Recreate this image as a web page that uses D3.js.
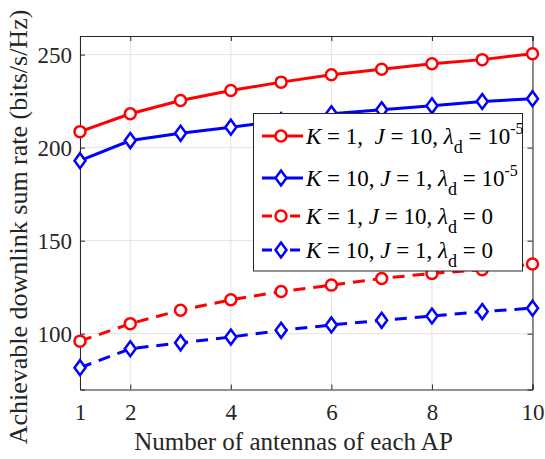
<!DOCTYPE html>
<html><head><meta charset="utf-8">
<script src="https://cdn.jsdelivr.net/npm/d3@7"></script>
<style>body{margin:0;background:#fff;} text{font-family:"Liberation Serif","Times New Roman",serif;}</style>
</head><body>
<svg id="c" width="545" height="459"></svg>
<script>
const antennas = [1,2,3,4,5,6,7,8,9,10];
const xTicks = [1,2,4,6,8,10];
const yTicks = [100,150,200,250];
const redSolid = [208.6,218.2,225.3,230.7,235.2,239.2,242.1,245.1,247.3,250.5];
const blueSolid = [193.0,203.8,207.7,211.0,214.5,218.2,220.3,222.5,224.8,226.3];
const redDashed = [96.0,105.4,112.6,118.2,122.7,126.1,129.7,132.4,134.4,137.4];
const blueDashed = [81.7,91.9,95.1,98.2,101.8,104.7,107.2,109.5,111.9,113.7];

const series = [
  {vals:redSolid, color:"#ff0000", marker:"circle", dash:null, lab:{K:"1,",J:"10,",lam:"10",sup:"-5", gap:true}},
  {vals:blueSolid, color:"#0000ff", marker:"diamond", dash:null, lab:{K:"10,",J:"1,",lam:"10",sup:"-5"}},
  {vals:redDashed, color:"#ff0000", marker:"circle", dash:"12,8", lab:{K:"1,",J:"10,",lam:"0"}},
  {vals:blueDashed, color:"#0000ff", marker:"diamond", dash:"12,8", lab:{K:"10,",J:"1,",lam:"0"}}
];

const svg = d3.select("#c");
const L=80,R=532.5,T=36,B=389.5;
const x = d3.scaleLinear().domain([1,10]).range([L,R]);
const y = d3.scaleLinear().domain([70,260]).range([B,T]);

// grid
svg.append("g").selectAll("line").data(xTicks).join("line")
  .attr("x1",d=>x(d)).attr("x2",d=>x(d)).attr("y1",T).attr("y2",B)
  .attr("stroke","#e3e3e3").attr("stroke-width",1);
svg.append("g").selectAll("line").data(yTicks).join("line")
  .attr("y1",d=>y(d)).attr("y2",d=>y(d)).attr("x1",L).attr("x2",R)
  .attr("stroke","#e3e3e3").attr("stroke-width",1);

// axes
const xa = svg.append("g").attr("transform",`translate(0,${B})`)
  .call(d3.axisBottom(x).tickValues(xTicks).tickSize(-5).tickPadding(14).tickFormat(d3.format("d")));
const xa2 = svg.append("g").attr("transform",`translate(0,${T})`)
  .call(d3.axisTop(x).tickValues(xTicks).tickSize(-5).tickFormat(""));
const ya = svg.append("g").attr("transform",`translate(${L},0)`)
  .call(d3.axisLeft(y).tickValues(yTicks).tickSize(-5).tickPadding(8));
const ya2 = svg.append("g").attr("transform",`translate(${R},0)`)
  .call(d3.axisRight(y).tickValues(yTicks).tickSize(-5).tickFormat(""));
[xa,xa2,ya,ya2].forEach(g=>{
  g.select(".domain").attr("stroke","#262626").attr("stroke-width",1);
  g.selectAll(".tick line").attr("stroke","#262626");
  g.selectAll("text").attr("font-size",23).attr("fill","#262626")
   .style("font-family","'Liberation Serif',serif");
});
xa.selectAll("text").attr("dy","0.71em");
ya.selectAll("text").attr("dy","0.35em");

// labels
svg.append("text").attr("x",293.5).attr("y",450).attr("text-anchor","middle")
  .attr("font-size",25).attr("fill","#262626").text("Number of antennas of each AP");
svg.append("text").attr("transform",`translate(27,227) rotate(-90)`).attr("text-anchor","middle")
  .attr("font-size",26).attr("fill","#262626").text("Achievable downlink sum rate (bits/s/Hz)");

// lines & markers
const line = d3.line().x((d,i)=>x(antennas[i])).y(d=>y(d));
function drawMarker(g, cx, cy, s){
  if(s.marker==="circle"){
    g.append("circle").attr("cx",cx).attr("cy",cy).attr("r",5.5)
      .attr("fill","#fff").attr("stroke",s.color).attr("stroke-width",2.5);
  } else {
    g.append("path").attr("d",`M${cx},${cy-7.5}L${cx+5.5},${cy}L${cx},${cy+7.5}L${cx-5.5},${cy}Z`)
      .attr("fill","#fff").attr("stroke",s.color).attr("stroke-width",2.5);
  }
}
series.forEach(s=>{
  const g = svg.append("g");
  g.append("path").attr("d",line(s.vals)).attr("fill","none").attr("stroke",s.color)
    .attr("stroke-width",3).attr("stroke-dasharray",s.dash);
  s.vals.forEach((v,i)=>drawMarker(g,x(antennas[i]),y(v),s));
});

// legend
const lg = svg.append("g");
lg.append("rect").attr("x",253.5).attr("y",113.5).attr("width",269).attr("height",157.5)
  .attr("fill","#fff").attr("stroke","#262626").attr("stroke-width",1);
const rowsY = [136,178,216,250];
series.forEach((s,i)=>{
  const yy = rowsY[i];
  if(s.dash){
    lg.append("line").attr("x1",262).attr("x2",272).attr("y1",yy).attr("y2",yy).attr("stroke",s.color).attr("stroke-width",3);
    lg.append("line").attr("x1",290).attr("x2",300).attr("y1",yy).attr("y2",yy).attr("stroke",s.color).attr("stroke-width",3);
  } else {
    lg.append("line").attr("x1",262).attr("x2",303).attr("y1",yy).attr("y2",yy).attr("stroke",s.color).attr("stroke-width",3);
  }
  drawMarker(lg,281,yy,s);
  const t = lg.append("text").attr("x",306).attr("y",yy+8).attr("font-size",23)
    .attr("fill","#000").style("white-space","pre");
  t.append("tspan").attr("font-style","italic").text("K");
  t.append("tspan").text(" = " + s.lab.K + (s.lab.gap?"  ":" "));
  t.append("tspan").attr("font-style","italic").text("J");
  t.append("tspan").text(" = " + s.lab.J + " ");
  t.append("tspan").attr("font-style","italic").text("λ");
  t.append("tspan").attr("font-size",18).attr("dy",9).text("d");
  t.append("tspan").attr("dy",-9).text(" = " + s.lab.lam);
  if(s.lab.sup) t.append("tspan").attr("font-size",16).attr("dy",-10).text(s.lab.sup);
});
</script>
</body></html>
